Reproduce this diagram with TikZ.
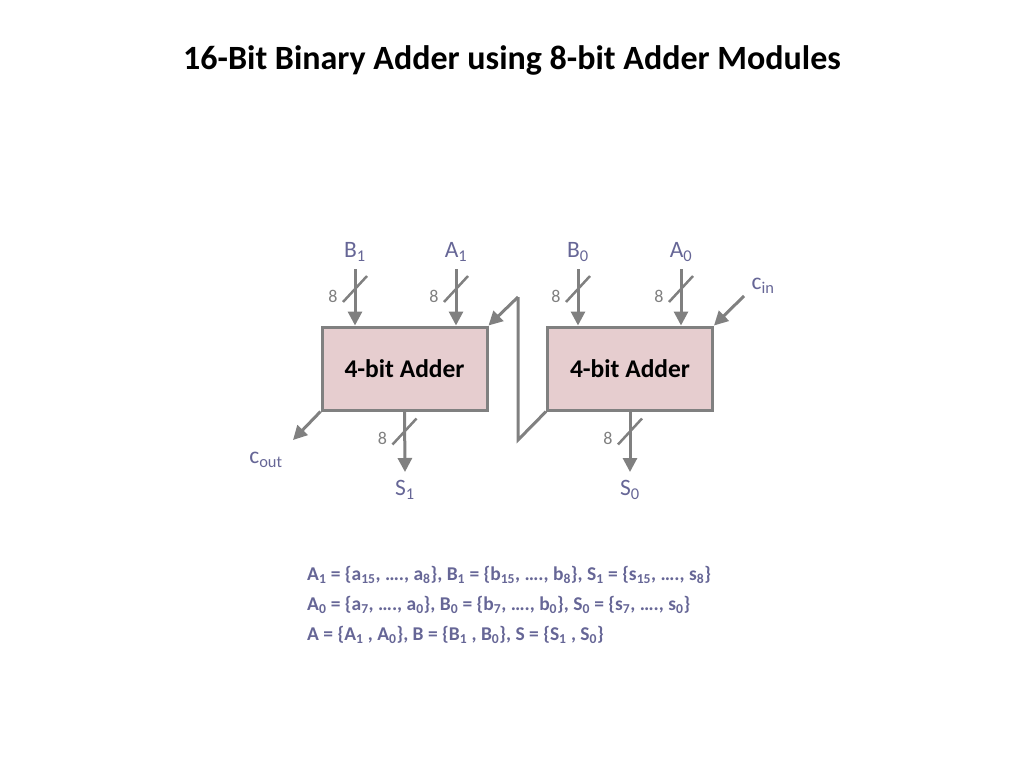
\documentclass[tikz,border=0pt]{standalone}
\usepackage{fontspec}
\setmainfont{Carlito}
\usepackage{tikz}
\usetikzlibrary{arrows.meta, positioning, calc}
\definecolor{wiregray}{RGB}{128,128,128}
\definecolor{adderfill}{RGB}{230,205,207}
\definecolor{labelblue}{RGB}{102,102,150}
\newcommand{\busmark}[1]{%
  \draw[wiregray, line width=2.5pt] ($(#1)+(-12,13)$) -- ($(#1)+(12,-13)$);
  \node[text=wiregray, font=\fontsize{18}{21}\selectfont] at ($(#1)+(-22,7)$) {8};}

\begin{document}
\begin{tikzpicture}[x=1pt, y=-1pt,
  adder/.style={draw=wiregray, line width=3pt, fill=adderfill, minimum width=165pt,
    minimum height=83pt, font=\bfseries\fontsize{25.5}{30}\selectfont},
  wire/.style={draw=wiregray, line width=3pt, -{Triangle[length=14pt, width=14pt]}},
  plainwire/.style={draw=wiregray, line width=3pt},
  sig/.style={text=labelblue, font=\fontsize{23.5}{28}\selectfont, inner sep=0pt},
  eqline/.style={text=labelblue, font=\bfseries\fontsize{19.5}{23}\selectfont, anchor=west, inner sep=0pt}]
\useasboundingbox (0,0) rectangle (1024,768);

\node[font=\bfseries\fontsize{34}{40}\selectfont] (title) at (512,60) {16-Bit Binary Adder using 8-bit Adder Modules};

% the two adder modules
\node[adder] (add1) at (404.5,368.5) {4-bit Adder};
\node[adder] (add0) at (630,368.5) {4-bit Adder};

% operand inputs
\node[sig] (b1) at (355,252) {B\textsubscript{1}};
\node[sig] (a1) at (456,252) {A\textsubscript{1}};
\node[sig] (b0) at (578,252) {B\textsubscript{0}};
\node[sig] (a0) at (681,252) {A\textsubscript{0}};
\foreach \s in {b1, a1, b0, a0} {
  \coordinate (\s top) at ($(\s)+(0,17)$);
  \draw[wire] (\s top) -- (\s top |- add1.north);
  \coordinate (\s bus) at ($(\s)+(0,37)$);
  \busmark{\s bus}
}

% sum outputs
\node[sig] (s1) at (405,490) {S\textsubscript{1}};
\node[sig] (s0) at (630,490) {S\textsubscript{0}};
\foreach \s/\m in {s1/add1, s0/add0} {
  \draw[wire] (\m.south) -- ($(\s)+(0,-18)$);
  \coordinate (\s bus) at ($(\m.south)+(0,20)$);
  \busmark{\s bus}
}

% carries
\node[sig] (cin) at (763,286) {c\textsubscript{in}};
\node[sig] (cout) at (266,460) {c\textsubscript{out}};
\coordinate (cinstart) at (744,296);
\coordinate (coutend) at (293,440);
\draw[wire] (cinstart) -- (add0.north east);
\draw[wire] (add1.south west) -- (coutend);
\coordinate (carrylow) at (518,440);
\coordinate (carryhigh) at (518,297);
\draw[plainwire] (add0.south west) -- (carrylow) -- (carryhigh);
\draw[wire] (carryhigh) -- (add1.north east);

% bit groups
\node[eqline] (eq1) at (307,575) {A\textsubscript{1} = \{a\textsubscript{15}, …., a\textsubscript{8}\}, B\textsubscript{1} = \{b\textsubscript{15}, …., b\textsubscript{8}\}, S\textsubscript{1} = \{s\textsubscript{15}, …., s\textsubscript{8}\}};
\node[eqline] (eq0) at (307,605) {A\textsubscript{0} = \{a\textsubscript{7}, …., a\textsubscript{0}\}, B\textsubscript{0} = \{b\textsubscript{7}, …., b\textsubscript{0}\}, S\textsubscript{0} = \{s\textsubscript{7}, …., s\textsubscript{0}\}};
\node[eqline] (eqall) at (307,635) {A = \{A\textsubscript{1} , A\textsubscript{0}\}, B = \{B\textsubscript{1} , B\textsubscript{0}\}, S = \{S\textsubscript{1} , S\textsubscript{0}\}};
\end{tikzpicture}
\end{document}
